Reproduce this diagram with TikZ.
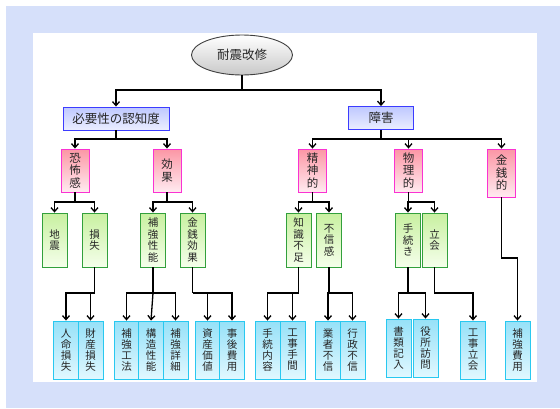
\documentclass[tikz,border=0pt]{standalone}
\usepackage{fontspec}
\newfontfamily\cjk{Noto Sans CJK JP}
\usepackage{tikz}
\usetikzlibrary{shapes.geometric, arrows.meta}

\definecolor{frameblue}{RGB}{214,224,250}
\definecolor{rootgray}{RGB}{200,200,200}
\definecolor{aspecttop}{RGB}{190,200,255}
\definecolor{aspectbot}{RGB}{235,238,255}
\definecolor{aspectline}{RGB}{60,60,255}
\definecolor{factortop}{RGB}{252,150,165}
\definecolor{factorbot}{RGB}{255,235,240}
\definecolor{factorline}{RGB}{250,50,210}
\definecolor{causetop}{RGB}{200,240,160}
\definecolor{causebot}{RGB}{245,255,235}
\definecolor{causeline}{RGB}{50,160,60}
\definecolor{itemtop}{RGB}{150,225,248}
\definecolor{itembot}{RGB}{225,248,255}
\definecolor{itemline}{RGB}{40,200,240}

\tikzset{
  box/.style={draw, inner sep=0pt, align=center, text=black!85, line width=0.9pt},
  rootnode/.style={box, ellipse, minimum width=101pt, minimum height=40pt,
    top color=white, bottom color=rootgray, draw=black!75,
    font=\cjk\fontsize{12.5}{14}\selectfont},
  aspectbox/.style={box, minimum height=23pt, top color=aspecttop, bottom color=aspectbot,
    draw=aspectline, font=\cjk\fontsize{12.5}{14}\selectfont},
  factorbox/.style={box, minimum width=28pt, minimum height=43pt, top color=factortop,
    bottom color=factorbot, draw=factorline, font=\cjk\fontsize{11.5}{12.5}\selectfont},
  causebox/.style={box, minimum width=25pt, minimum height=54pt, top color=causetop,
    bottom color=causebot, draw=causeline, font=\cjk\fontsize{10.5}{11.5}\selectfont},
  itembox/.style={box, minimum width=25pt, minimum height=58pt, top color=itemtop,
    bottom color=itembot, draw=itemline, font=\cjk\fontsize{10.5}{11}\selectfont},
  link/.style={line width=1.3pt},
  arr/.style={link, -{Straight Barb[length=4pt,width=7pt]}}
}

\begin{document}
\begin{tikzpicture}[x=1pt, y=-1pt]
\useasboundingbox (0,0) rectangle (560,408);
% frame
\fill[frameblue] (6,6) rectangle (560,408);
\fill[white] (33,33) rectangle (537,382);
% root
\node[rootnode] (root) at (242,55) {耐震改修};
% aspects
\node[aspectbox, minimum width=106pt] (need) at (116,118.5) {必要性の認知度};
\node[aspectbox, minimum width=65pt] (obst) at (381,118) {障害};
% factors
\node[factorbox] (fear) at (75,170.5) {恐\\怖\\感};
\node[factorbox] (effect) at (167,170.5) {効\\果};
\node[factorbox] (mental) at (312.5,170.5) {精\\神\\的};
\node[factorbox] (physical) at (408.5,170.5) {物\\理\\的};
\node[factorbox, minimum height=48pt] (money) at (501.5,173) {金\\銭\\的};
% causes
\node[causebox] (quake) at (54.5,240) {地\\震};
\node[causebox] (loss) at (94.5,240) {損\\失};
\node[causebox] (perf) at (153,240) {補\\強\\性\\能};
\node[causebox] (gain) at (192.5,240) {金\\銭\\効\\果};
\node[causebox] (knowl) at (298.5,240) {知\\識\\不\\足};
\node[causebox] (distrust) at (329,240) {不\\信\\感};
\node[causebox] (proc) at (408,240) {手\\続\\き};
\node[causebox] (attend) at (434.5,240) {立\\会};
% items
\node[itembox] (life) at (66,350) {人\\命\\損\\失};
\node[itembox] (asset) at (90.5,350) {財\\産\\損\\失};
\node[itembox] (method) at (126.5,350) {補\\強\\工\\法};
\node[itembox] (struct) at (151,350) {構\\造\\性\\能};
\node[itembox] (detail) at (175.5,350) {補\\強\\詳\\細};
\node[itembox] (value) at (207.5,350) {資\\産\\価\\値};
\node[itembox] (after) at (232,350) {事\\後\\費\\用};
\node[itembox] (content) at (267.5,350) {手\\続\\内\\容};
\node[itembox] (labour) at (292.5,350) {工\\事\\手\\間};
\node[itembox] (trader) at (328,350) {業\\者\\不\\信};
\node[itembox] (admin) at (352.5,350) {行\\政\\不\\信};
\node[itembox] (papers) at (398.5,348) {書\\類\\記\\入};
\node[itembox] (office) at (425.5,348) {役\\所\\訪\\問};
\node[itembox] (site) at (473,350) {工\\事\\立\\会};
\node[itembox] (cost) at (517.5,350) {補\\強\\費\\用};
% root to aspects
\draw[link] (root.south) -- (root.south |- 0,90) coordinate (rb);
\draw[arr] (rb) -| (need.north);
\draw[arr] (rb) -| (obst.north);
% aspects to factors
\draw[link] (need.south) -- (need.south |- 0,139) coordinate (nb);
\draw[arr] (nb) -| (fear.north);
\draw[arr] (nb) -| (effect.north);
\draw[link] (obst.south) -- (obst.south |- 0,139) coordinate (ob);
\draw[arr] (ob) -| (mental.north);
\draw[arr] (ob) -| (physical.north);
\draw[arr] (ob) -| (money.north);
% factors to causes
\draw[link] (fear.south) -- (fear.south |- 0,202) coordinate (fb);
\draw[arr] (fb) -| (quake.north);
\draw[arr] (fb) -| (loss.north);
\draw[link] (effect.south) -- (effect.south |- 0,202) coordinate (eb);
\draw[arr] (eb) -| (perf.north);
\draw[arr] (eb) -| (gain.north);
\draw[link] (mental.south) -- (mental.south |- 0,202) coordinate (mb);
\draw[arr] (mb) -| (knowl.north);
\draw[arr] (mb) -| (distrust.north);
\draw[link] (physical.south) -- (physical.south |- 0,202) coordinate (pb);
\draw[arr] (pb) -| (proc.north);
\draw[arr] (pb) -| (attend.north);
% causes to items
\draw[link] (loss.south) -- (loss.south |- 0,293) coordinate (lb);
\draw[arr] (lb) -| (life.north);
\draw[arr] (lb) -| (asset.north);
\draw[link] (perf.south) -- (perf.south |- 0,293) coordinate (qb);
\draw[arr] (qb) -| (method.north);
\draw[arr] (qb) -- (struct.north);
\draw[arr] (qb) -| (detail.north);
\draw[link] (gain.south) -- (gain.south |- 0,293) coordinate (gb);
\draw[arr] (gb) -| (value.north);
\draw[arr] (gb) -| (after.north);
\draw[link] (knowl.south) -- (knowl.south |- 0,293) coordinate (kb);
\draw[arr] (kb) -| (content.north);
\draw[arr] (kb) -| (labour.north);
\draw[link] (distrust.south) -- (distrust.south |- 0,293) coordinate (db);
\draw[arr] (db) -| (trader.north);
\draw[arr] (db) -| (admin.north);
\draw[link] (proc.south) -- (proc.south |- 0,293) coordinate (cb);
\draw[arr] (cb) -| (papers.north);
\draw[arr] (cb) -| (office.north);
\draw[arr] (attend.south) |- (site.north |- 0,293) -- (site.north);
\draw[arr] (money.south) |- (cost.north |- 0,258) -- (cost.north);
\end{tikzpicture}
\end{document}
